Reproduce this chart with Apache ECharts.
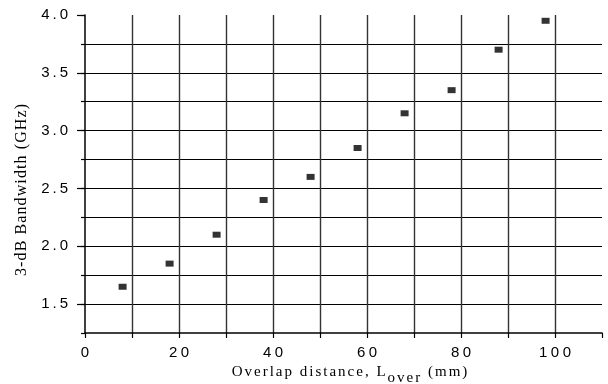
<!DOCTYPE html>
<html>
<head>
<meta charset="utf-8">
<script src="https://cdn.jsdelivr.net/npm/echarts@6/dist/echarts.min.js"></script>
<style>html,body{margin:0;padding:0;background:#fff;}#c{width:608px;height:384px;}</style>
</head>
<body>
<div id="c"></div>
<script>
var xValues = [8, 18, 28, 38, 48, 58, 68, 78, 88, 98];
var bandwidth = [1.65, 1.85, 2.1, 2.4, 2.6, 2.85, 3.15, 3.35, 3.7, 3.95];
var xTickLabels = [0, 20, 40, 60, 80, 100];
var yTickLabels = [1.5, 2.0, 2.5, 3.0, 3.5, 4.0];
var xTitle = ['Overlap distance, L', 'over', ' (mm)'];
var yTitle = '3-dB Bandwidth (GHz)';

// emulate letter spacing with rich tokens: every char but the last gets style `pad`
function spaced(s, pad, last) {
  var ch = s.split('');
  return ch.map(function (c, i) {
    return '{' + ((i < ch.length - 1 || !last) ? pad : last) + '|' + c + '}';
  }).join('');
}

var chart = echarts.init(document.getElementById('c'), null, {renderer: 'canvas'});
var sans = 'Liberation Sans, Arial, sans-serif';
var serif = 'Liberation Serif, Times New Roman, serif';

var yBase = {type: 'value', min: 1.25, max: 4.0, interval: 0.25, position: 'left'};

chart.setOption({
  animation: false,
  grid: {left: 85, right: 6, top: 15, bottom: 51, containLabel: false, outerBoundsMode: 'none'},
  graphic: [{
    type: 'text',
    x: 22, y: 190,
    rotation: Math.PI / 2,
    style: {
      text: spaced(yTitle, 'p', 'q'),
      align: 'center', verticalAlign: 'middle',
      rich: {
        p: {fontFamily: serif, fontSize: 16, fill: '#000', padding: [0, 1.1, 0, 0]},
        q: {fontFamily: serif, fontSize: 16, fill: '#000'}
      }
    }
  }],
  xAxis: [{
    type: 'value', min: 0, max: 110, interval: 10,
    name: spaced(xTitle[0], 'n') + spaced(xTitle[1], 's') + spaced(xTitle[2], 'n', 'm'),
    nameLocation: 'middle', nameGap: 32,
    nameTextStyle: {
      padding: [0, 0, 0, 12],
      rich: {
        n: {fontFamily: serif, fontSize: 15, color: '#000', lineHeight: 16, verticalAlign: 'top', padding: [0, 2.0, 0, 0]},
        m: {fontFamily: serif, fontSize: 15, color: '#000', lineHeight: 16, verticalAlign: 'top'},
        s: {fontFamily: serif, fontSize: 15, color: '#000', lineHeight: 21, verticalAlign: 'bottom', padding: [0, 2.0, 0, 0]}
      }
    },
    axisLine: {show: true, onZero: false, lineStyle: {color: '#000', width: 1.5}},
    axisTick: {show: true, inside: false, length: 5, lineStyle: {color: '#000', width: 1.2}},
    axisLabel: {
      show: true, margin: 12, color: '#000',
      customValues: xTickLabels,
      formatter: function (v) { return spaced(String(v), 'a', 'b'); },
      rich: {
        a: {fontFamily: sans, fontSize: 15, color: '#000', padding: [0, 3.5, 0, 0]},
        b: {fontFamily: sans, fontSize: 15, color: '#000'}
      }
    },
    splitLine: {show: true, showMinLine: false, showMaxLine: false, lineStyle: {color: '#333', width: 1.4}}
  }],
  yAxis: [
    Object.assign({}, yBase, {
      axisLine: {show: true, onZero: false, lineStyle: {color: '#000', width: 1.5}},
      axisTick: {show: true, length: 4, lineStyle: {color: '#000', width: 1.2}},
      axisLabel: {show: false},
      splitLine: {show: true, showMinLine: false, showMaxLine: false, lineStyle: {color: '#000', width: 1.2}}
    }),
    Object.assign({}, yBase, {
      axisLine: {show: false},
      axisTick: {show: true, length: 8, customValues: yTickLabels, lineStyle: {color: '#000', width: 1.2}},
      axisLabel: {
        show: true, margin: 17, color: '#000',
        customValues: yTickLabels,
        formatter: function (v) { return spaced(v.toFixed(1), 'a', 'b'); },
        rich: {
          a: {fontFamily: sans, fontSize: 15, color: '#000', padding: [0, 3, 0, 0]},
          b: {fontFamily: sans, fontSize: 15, color: '#000'}
        }
      },
      splitLine: {show: false}
    })
  ],
  series: [{
    type: 'scatter',
    data: xValues.map(function (x, i) { return [x, bandwidth[i]]; }),
    symbol: 'rect', symbolSize: [8, 6],
    itemStyle: {color: '#000'},
    z: 5
  }]
});
</script>
</body>
</html>
